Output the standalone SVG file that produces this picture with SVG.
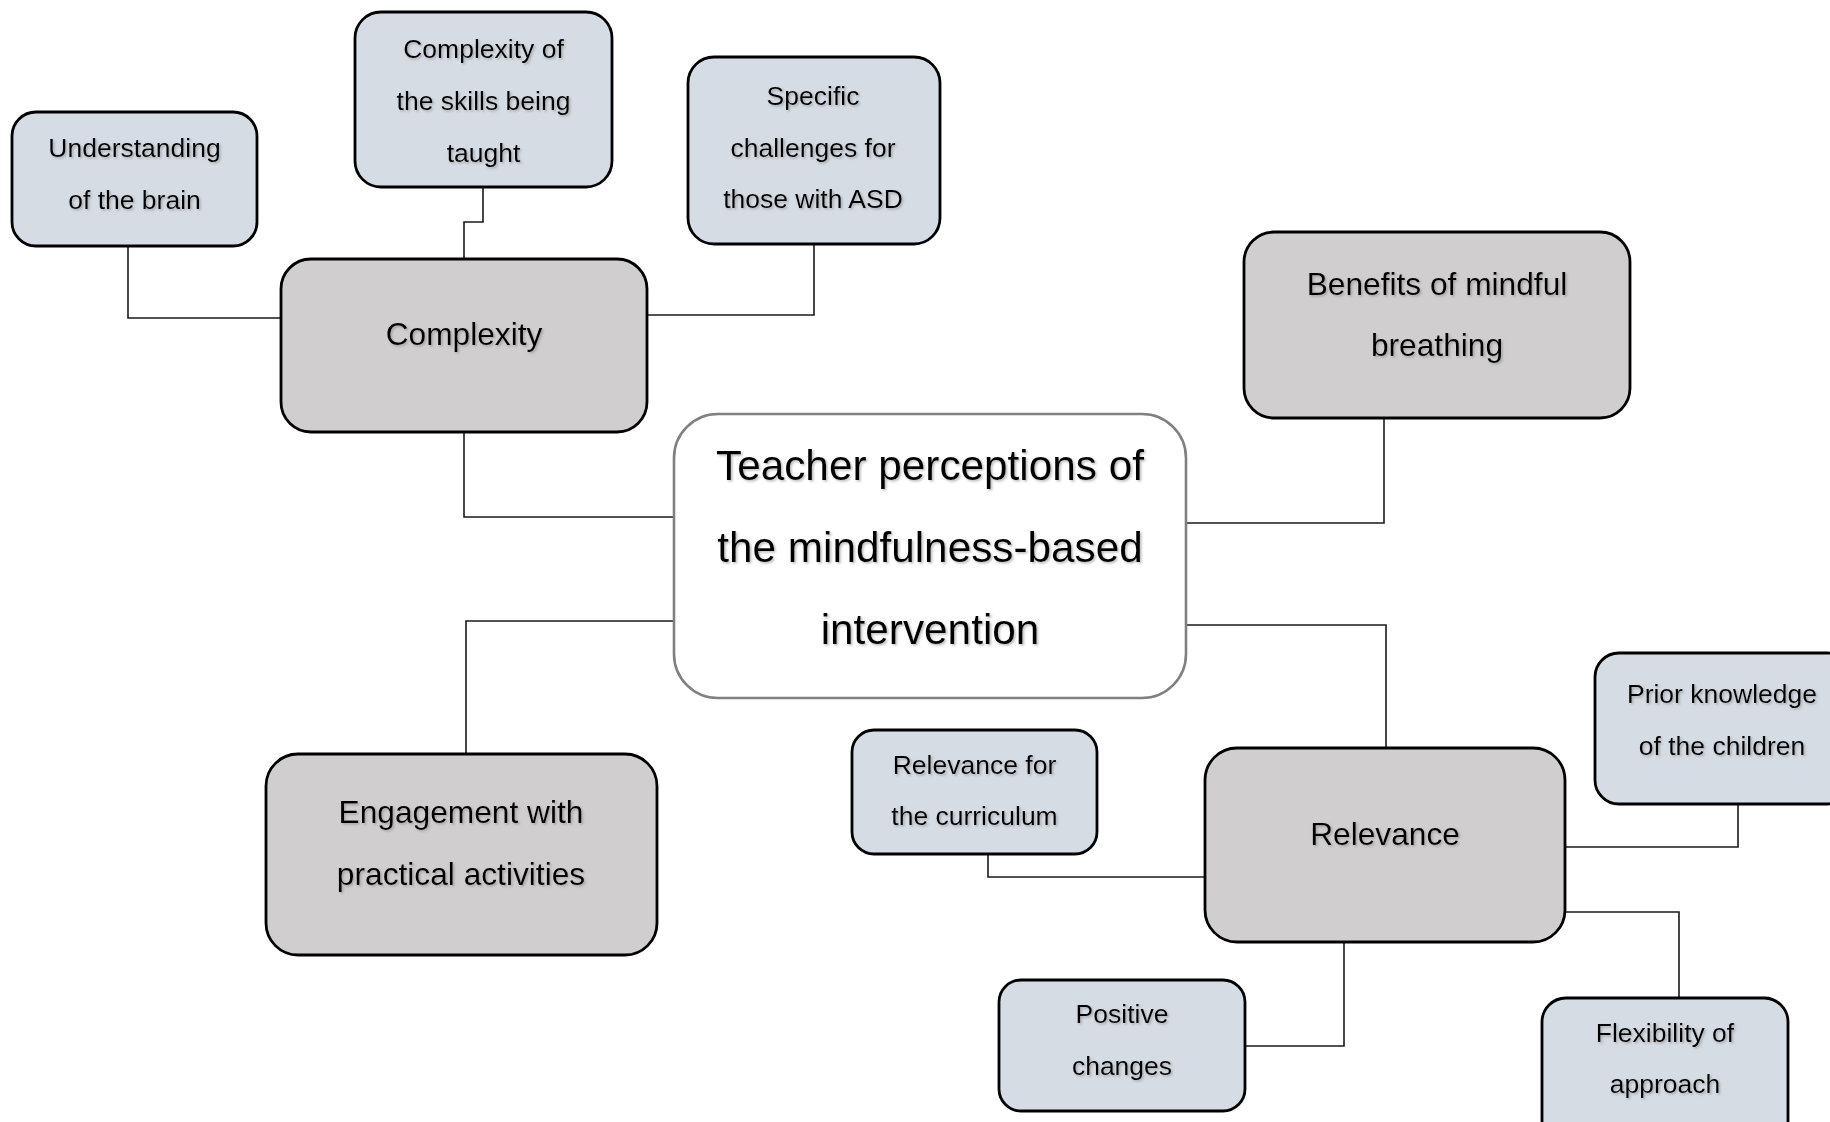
<svg xmlns="http://www.w3.org/2000/svg" width="1830" height="1122" viewBox="0 0 1830 1122">
<defs>
<filter id="sh" x="-5%" y="-20%" width="110%" height="140%">
<feDropShadow dx="1.5" dy="1.5" stdDeviation="0.8" flood-color="#808080" flood-opacity="0.55"/>
</filter>
<style>
.sub{fill:#d6dce4;stroke:#000;stroke-width:2.8}
.mid{fill:#d0cece;stroke:#000;stroke-width:2.8}
.core{fill:#fff;stroke:#808080;stroke-width:2.6}
text{font-family:"Liberation Sans",Arial,sans-serif;fill:#000;text-anchor:middle;filter:url(#sh)}
.t1{font-size:26.5px}
.t2{font-size:31.7px}
.t3{font-size:42.3px}
.c{fill:none;stroke:#1a1a1a;stroke-width:1.6}
</style>
</defs>
<rect width="1830" height="1122" fill="#fff"/>
<g id="connectors">
<polyline class="c" points="128,246 128,318 281,318"/>
<polyline class="c" points="483,187 483,222 464,222 464,259"/>
<polyline class="c" points="647,315 814,315 814,244"/>
<polyline class="c" points="464,432 464,517 674,517"/>
<polyline class="c" points="674,621 466,621 466,753"/>
<polyline class="c" points="1186,523 1384,523 1384,418"/>
<polyline class="c" points="1186,625 1386,625 1386,748"/>
<polyline class="c" points="1205,877 988,877 988,854"/>
<polyline class="c" points="1565,847 1738,847 1738,804"/>
<polyline class="c" points="1565,912 1679,912 1679,998"/>
<polyline class="c" points="1344,942 1344,1046 1245,1046"/>
</g>
<g id="n-understanding">
<rect class="sub" x="12" y="112" width="245" height="134" rx="24"/>
<text class="t1" x="134.5" y="157">Understanding</text>
<text class="t1" x="134.5" y="209">of the brain</text>
</g>
<g id="n-skills">
<rect class="sub" x="355" y="12" width="257" height="175" rx="26"/>
<text class="t1" x="483.5" y="58">Complexity of</text>
<text class="t1" x="483.5" y="110">the skills being</text>
<text class="t1" x="483.5" y="162">taught</text>
</g>
<g id="n-specific">
<rect class="sub" x="688" y="57" width="252" height="187" rx="26"/>
<text class="t1" x="813" y="105">Specific</text>
<text class="t1" x="813" y="157">challenges for</text>
<text class="t1" x="813" y="208">those with ASD</text>
</g>
<g id="n-complexity">
<rect class="mid" x="281" y="259" width="366" height="173" rx="30"/>
<text class="t2" x="464" y="345">Complexity</text>
</g>
<g id="n-central">
<rect class="core" x="674" y="414" width="512" height="284" rx="44"/>
<text class="t3" x="930" y="480">Teacher perceptions of</text>
<text class="t3" x="930" y="562">the mindfulness-based</text>
<text class="t3" x="930" y="644">intervention</text>
</g>
<g id="n-benefits">
<rect class="mid" x="1244" y="232" width="386" height="186" rx="30"/>
<text class="t2" x="1437" y="295">Benefits of mindful</text>
<text class="t2" x="1437" y="356">breathing</text>
</g>
<g id="n-engagement">
<rect class="mid" x="266" y="754" width="391" height="201" rx="32"/>
<text class="t2" x="461" y="823">Engagement with</text>
<text class="t2" x="461" y="885">practical activities</text>
</g>
<g id="n-relevance">
<rect class="mid" x="1205" y="748" width="360" height="194" rx="32"/>
<text class="t2" x="1385" y="845">Relevance</text>
</g>
<g id="n-curriculum">
<rect class="sub" x="852" y="730" width="245" height="124" rx="22"/>
<text class="t1" x="974.5" y="774">Relevance for</text>
<text class="t1" x="974.5" y="825">the curriculum</text>
</g>
<g id="n-prior">
<rect class="sub" x="1595" y="653" width="256" height="151" rx="24"/>
<text class="t1" x="1722" y="703">Prior knowledge</text>
<text class="t1" x="1722" y="755">of the children</text>
</g>
<g id="n-positive">
<rect class="sub" x="999" y="980" width="246" height="131" rx="22"/>
<text class="t1" x="1122" y="1023">Positive</text>
<text class="t1" x="1122" y="1075">changes</text>
</g>
<g id="n-flexibility">
<rect class="sub" x="1542" y="998" width="246" height="150" rx="24"/>
<text class="t1" x="1665" y="1042">Flexibility of</text>
<text class="t1" x="1665" y="1093">approach</text>
</g>
</svg>
